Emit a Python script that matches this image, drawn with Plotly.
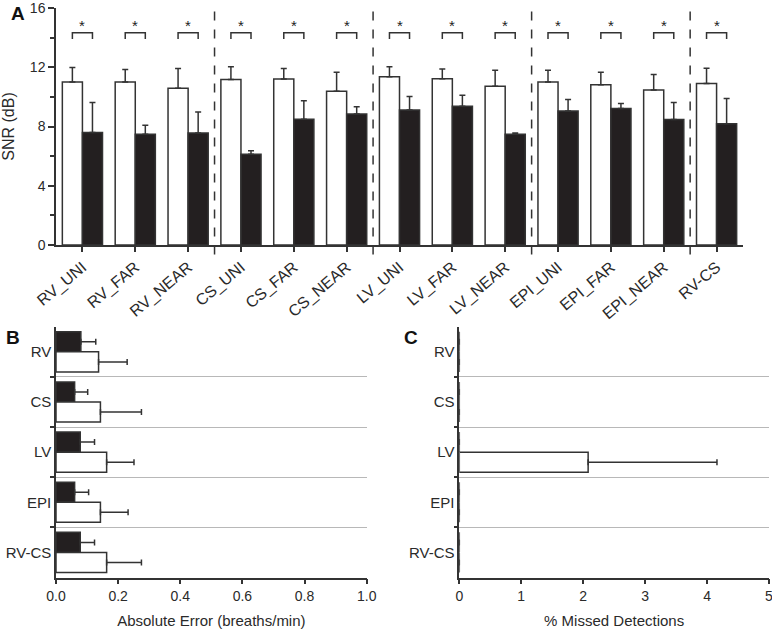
import numpy as np
import plotly.graph_objects as go

# ---------------- data ----------------
# Panel A: SNR (dB)
snr_categories = ["RV_UNI", "RV_FAR", "RV_NEAR", "CS_UNI", "CS_FAR", "CS_NEAR",
                  "LV_UNI", "LV_FAR", "LV_NEAR", "EPI_UNI", "EPI_FAR", "EPI_NEAR", "RV-CS"]
snr_white = [11.0, 11.0, 10.58, 11.18, 11.2, 10.38, 11.36, 11.22, 10.71, 11.0, 10.82, 10.47, 10.91]
snr_white_err = [0.98, 0.84, 1.33, 0.86, 0.71, 1.29, 0.68, 0.67, 1.09, 0.80, 0.85, 1.04, 1.02]
snr_black = [7.6, 7.47, 7.56, 6.13, 8.49, 8.84, 9.11, 9.36, 7.47, 9.04, 9.22, 8.47, 8.18]
snr_black_err = [2.02, 0.62, 1.42, 0.23, 1.24, 0.49, 0.91, 0.75, 0.09, 0.78, 0.34, 1.15, 1.71]
snr_significant = [True] * 13

# Panel B: Absolute error (breaths/min)
site_categories = ["RV", "CS", "LV", "EPI", "RV-CS"]
abs_black = [0.080, 0.060, 0.078, 0.060, 0.078]
abs_black_err = [0.048, 0.042, 0.046, 0.045, 0.046]
abs_white = [0.137, 0.143, 0.163, 0.143, 0.163]
abs_white_err = [0.092, 0.132, 0.088, 0.089, 0.112]

# Panel C: % missed detections
miss_black = [0, 0, 0, 0, 0]
miss_black_err = [0, 0, 0, 0, 0]
miss_white = [0, 0, 2.08, 0, 0]
miss_white_err = [0, 0, 2.08, 0, 0]

# ---------------- style ----------------
FONT = "Liberation Sans, Arial, Helvetica, sans-serif"
TXT = "#2a2a2a"
LINE = "#333333"
BLACK = "#231f20"
W = 772
H = 629

idx = np.arange(len(snr_categories))
fig = go.Figure()

def err(vals, n):
    return dict(type="data", array=vals, arrayminus=[0] * n, symmetric=False,
                color=LINE, thickness=1.5, width=3)

bw_a = 0.38
fig.add_trace(go.Bar(x=idx, y=snr_white, width=bw_a, offset=-bw_a,
                     marker=dict(color="white", line=dict(color=LINE, width=1.5)),
                     error_y=err(snr_white_err, len(idx)), xaxis="x", yaxis="y",
                     showlegend=False))
fig.add_trace(go.Bar(x=idx, y=snr_black, width=bw_a, offset=0,
                     marker=dict(color=BLACK, line=dict(color=LINE, width=1.5)),
                     error_y=err(snr_black_err, len(idx)), xaxis="x", yaxis="y",
                     showlegend=False))

# significance brackets
bx, by = [], []
b_lo, b_hi = 13.9, 14.33
for i, s in zip(idx, snr_significant):
    if s:
        bx += [i - bw_a / 2, i - bw_a / 2, i + bw_a / 2, i + bw_a / 2, None]
        by += [b_lo, b_hi, b_hi, b_lo, None]
fig.add_trace(go.Scatter(x=bx, y=by, mode="lines", line=dict(color=LINE, width=1.5),
                         xaxis="x", yaxis="y", showlegend=False, hoverinfo="skip"))
annotations = []
for i, s in zip(idx, snr_significant):
    if s:
        annotations.append(dict(x=i, y=14.8, xref="x", yref="y", text="*", showarrow=False,
                                font=dict(size=15, color="#222222", family=FONT)))

# group separators (dashed)
shapes = []
groups = [c.split("_")[0] for c in snr_categories]
for i in range(1, len(groups)):
    if groups[i] != groups[i - 1]:
        shapes.append(dict(type="line", xref="x", yref="y domain", x0=i - 0.5, x1=i - 0.5,
                           y0=-0.04, y1=1.01, line=dict(color=LINE, width=1.5, dash="dash")))

# Panel B
bw_b = 0.4
fig.add_trace(go.Bar(y=site_categories, x=abs_black, orientation="h", width=bw_b, offset=-bw_b,
                     marker=dict(color=BLACK, line=dict(color=LINE, width=1.5)),
                     error_x=err(abs_black_err, 5), xaxis="x2", yaxis="y2", showlegend=False))
fig.add_trace(go.Bar(y=site_categories, x=abs_white, orientation="h", width=bw_b, offset=0,
                     marker=dict(color="white", line=dict(color=LINE, width=1.5)),
                     error_x=err(abs_white_err, 5), xaxis="x2", yaxis="y2", showlegend=False))

# Panel C
fig.add_trace(go.Bar(y=site_categories, x=miss_black, orientation="h", width=bw_b, offset=-bw_b,
                     marker=dict(color=BLACK, line=dict(color=LINE, width=1.5)),
                     error_x=err(miss_black_err, 5), xaxis="x3", yaxis="y3", showlegend=False))
fig.add_trace(go.Bar(y=site_categories, x=miss_white, orientation="h", width=bw_b, offset=0,
                     marker=dict(color="white", line=dict(color=LINE, width=1.5)),
                     error_x=err(miss_white_err, 5), xaxis="x3", yaxis="y3", showlegend=False))

# panel letters
for letter, px, py in [("A", 18, 13), ("B", 13, 337), ("C", 411, 337)]:
    annotations.append(dict(x=px / W, y=1 - py / H, xref="paper", yref="paper", text="<b>%s</b>" % letter,
                            showarrow=False, xanchor="center", yanchor="middle",
                            font=dict(size=19, color="#111", family=FONT)))

axis_common = dict(showline=True, linecolor=LINE, linewidth=1.5, ticks="outside",
                   tickcolor=LINE, tickwidth=1.5, zeroline=False, automargin=False,
                   ticklabeloverflow="allow",
                   tickfont=dict(size=14, color=TXT, family=FONT))

cat_y = dict(type="category", categoryorder="array", categoryarray=site_categories,
             range=[4.5, -0.49], tickson="boundaries", showgrid=True, gridcolor="#b8b8b8",
             gridwidth=1.2, ticklen=4, tickfont=dict(size=15, color=TXT, family=FONT),
             showline=True, linecolor=LINE, linewidth=1.5, ticks="outside", automargin=False,
             tickcolor=LINE, tickwidth=1.5, zeroline=False)

fig.update_layout(
    width=W, height=H, margin=dict(l=0, r=0, t=0, b=0),
    paper_bgcolor="white", plot_bgcolor="white",
    barmode="overlay",
    font=dict(family=FONT, color=TXT),
    xaxis=dict(domain=[56 / W, 743 / W], anchor="y", range=[-0.5, 12.5],
               tickvals=idx, ticktext=snr_categories, tickangle=-40, ticklen=5,
               showgrid=False, **{k: v for k, v in axis_common.items() if k != "tickfont"},
               tickfont=dict(size=16, color=TXT, family=FONT)),
    yaxis=dict(domain=[1 - 245 / H, 1 - 8 / H], anchor="x", range=[0, 16],
               tickvals=[0, 4, 8, 12, 16], ticklen=6, showgrid=False,
               minor=dict(dtick=2, tick0=0, ticks="outside", ticklen=4, tickcolor=LINE, tickwidth=1.5),
               title=dict(text="SNR (dB)", font=dict(size=16, color=TXT, family=FONT), standoff=12),
               **axis_common),
    xaxis2=dict(domain=[56 / W, 366.7 / W], anchor="y2", range=[0, 1], dtick=0.2, tickformat=".1f",
                ticklen=5, showgrid=False,
                title=dict(text="Absolute Error (breaths/min)", font=dict(size=15, color=TXT, family=FONT),
                           standoff=12),
                **axis_common),
    yaxis2=dict(domain=[1 - 577.5 / H, 1 - 327.3 / H], anchor="x2", **cat_y),
    xaxis3=dict(domain=[459.3 / W, 769 / W], anchor="y3", range=[0, 5], dtick=1,
                ticklen=5, showgrid=False,
                title=dict(text="% Missed Detections", font=dict(size=15, color=TXT, family=FONT),
                           standoff=12),
                **axis_common),
    yaxis3=dict(domain=[1 - 577.5 / H, 1 - 327.3 / H], anchor="x3", **cat_y),
    shapes=shapes,
    annotations=annotations,
)

fig.write_html("out.html", config={"displayModeBar": False},
               post_script="document.body.style.margin='0px';document.body.style.overflow='hidden';")
